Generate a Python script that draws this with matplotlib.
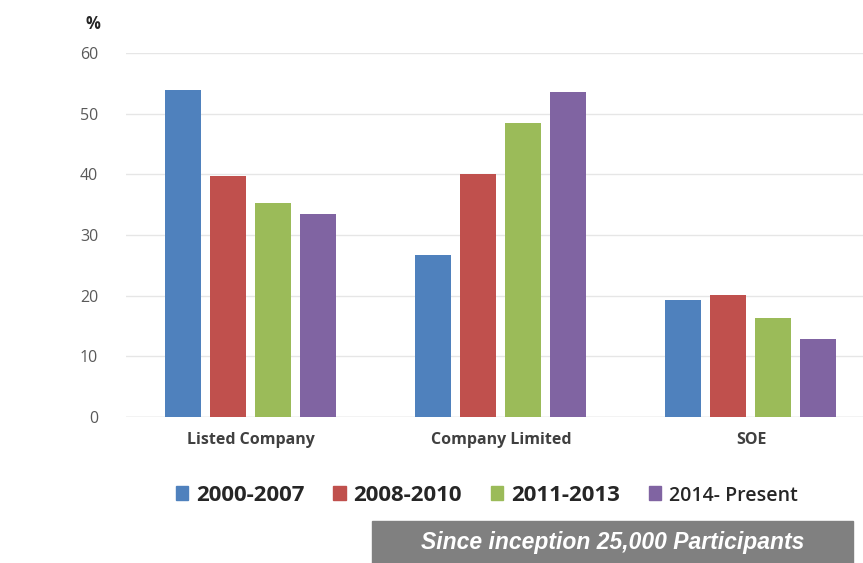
import matplotlib.pyplot as plt
import numpy as np
from matplotlib.patches import Patch, Rectangle

plt.rcParams.update({
    "font.family": ["Open Sans", "DejaVu Sans"],
    "font.size": 10})

categories = ['Listed Company', 'Company Limited', 'SOE']
periods = ['2000-2007', '2008-2010', '2011-2013', '2014- Present']
values_2000_2007 = [53.9, 26.7, 19.3]
values_2008_2010 = [39.7, 40.0, 20.1]
values_2011_2013 = [35.3, 48.4, 16.3]
values_2014_present = [33.4, 53.5, 12.9]
y_ticks = [0, 10, 20, 30, 40, 50, 60]

series = [values_2000_2007, values_2008_2010, values_2011_2013, values_2014_present]
colors = ['#4F81BD', '#C0504D', '#9BBB59', '#8064A2']


def draw_chart():
    fig = plt.figure(figsize=(8.63, 5.63), dpi=100)
    ax = fig.add_axes([0.146, 0.2593, 0.854, 0.6466])

    x = np.arange(len(categories))
    step = 0.18
    width = 0.144
    for i, vals in enumerate(series):
        ax.bar(x + (i - 1.5) * step, vals, width, color=colors[i], zorder=3)

    ax.set_xlim(-0.5, 2.448)
    ax.set_ylim(0, 60)
    ax.set_yticks(y_ticks)
    ax.set_xticks(x)
    ax.set_xticklabels(categories, fontweight='bold', fontsize=11.5, color='#404040')
    ax.tick_params(axis='y', length=0, pad=20, labelsize=11.5, labelcolor='#595959')
    ax.tick_params(axis='x', length=0, pad=11)
    ax.grid(axis='y', color='#e6e6e6', linewidth=1.0, zorder=0)
    for s in ax.spines.values():
        s.set_visible(False)
    ax.axhline(0, color='#d9d9d9', linewidth=1.0, zorder=2)

    fig.text(0.108, 0.957, '%', fontsize=12, fontweight='bold', color='#262626',
             ha='center', va='center')

    handles = [Patch(color=c) for c in colors]
    leg = fig.legend(handles, periods, loc='center', bbox_to_anchor=(0.564, 0.12), ncol=4,
                     frameon=False, handlelength=0.55, handleheight=0.55, handletextpad=0.35,
                     columnspacing=1.3, prop={'weight': 'bold', 'size': 16})
    texts = leg.get_texts()
    texts[3].set_fontsize(14)
    texts[3].set_fontweight('semibold')
    for t in texts:
        t.set_color('#262626')

    fig.patches.append(Rectangle((372 / 863, 0), (853 - 372) / 863, 42 / 563,
                                 transform=fig.transFigure, color='#808080', zorder=1))
    fig.text(613 / 863, 21 / 563, 'Since inception 25,000 Participants', color='white',
             fontsize=16.5, fontweight='bold', fontstyle='italic', ha='center', va='center',
             family=['Liberation Sans', 'DejaVu Sans'])

    fig.savefig('out.png', dpi=100)


if __name__ == "__main__":
    draw_chart()
